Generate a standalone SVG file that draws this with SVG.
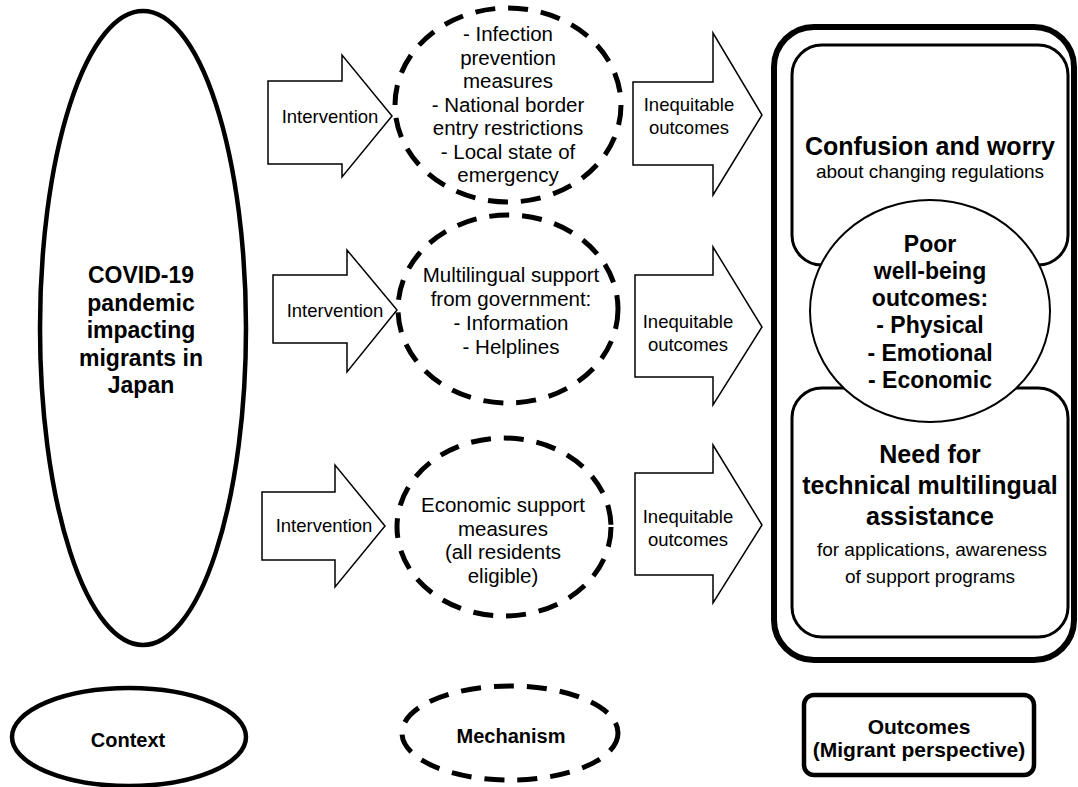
<svg xmlns="http://www.w3.org/2000/svg" width="1078" height="787" viewBox="0 0 1078 787">
<style>
text{font-family:"Liberation Sans",Arial,sans-serif;fill:#000;text-anchor:middle}
.b{font-weight:bold}
.arrow{fill:#fff;stroke:#000;stroke-width:1.5;stroke-linejoin:miter}
.mech{fill:#fff;stroke:#000;stroke-width:5;stroke-dasharray:20 13}
.ctx{fill:#fff;stroke:#000;stroke-width:4.5}
.at{font-size:18.5px}
.mt{font-size:20.5px}
</style>
<rect width="1078" height="787" fill="#fff"/>
<g id="context">
<ellipse class="ctx" cx="143" cy="328" rx="103" ry="317"/>
<text class="b" font-size="23"><tspan x="141" y="283">COVID-19</tspan><tspan x="141" y="310.5">pandemic</tspan><tspan x="141" y="338">impacting</tspan><tspan x="141" y="365.5">migrants in</tspan><tspan x="141" y="393">Japan</tspan></text>
</g>
<g id="connectors">
<path class="arrow" d="M268,81 H342 V55 L392,116 L342,177 V164 H268 Z"/>
<path class="arrow" d="M633,82 H713 V33 L762,115 L713,195 V165 H633 Z"/>
<path class="arrow" d="M273,275 H347 V250 L397,310 L347,372 V343 H273 Z"/>
<path class="arrow" d="M635,275 H713 V247 L762,327 L713,405 V377 H635 Z"/>
<path class="arrow" d="M262,492 H335 V465 L385,526 L335,587 V560 H262 Z"/>
<path class="arrow" d="M635,473 H713 V445 L762,525 L713,603 V575 H635 Z"/>
<text class="at" x="330" y="123">Intervention</text>
<text class="at"><tspan x="689" y="111">Inequitable</tspan><tspan x="689" y="134">outcomes</tspan></text>
<text class="at" x="335" y="317">Intervention</text>
<text class="at"><tspan x="688" y="328">Inequitable</tspan><tspan x="688" y="351">outcomes</tspan></text>
<text class="at" x="324" y="532">Intervention</text>
<text class="at"><tspan x="688" y="523">Inequitable</tspan><tspan x="688" y="546">outcomes</tspan></text>
</g>
<g id="mechanism1">
<ellipse class="mech" cx="508" cy="105" rx="113" ry="97"/>
<text class="mt"><tspan x="508" y="41">- Infection</tspan><tspan x="508" y="64.5">prevention</tspan><tspan x="508" y="88">measures</tspan><tspan x="508" y="111.5">- National border</tspan><tspan x="508" y="135">entry restrictions</tspan><tspan x="508" y="158.5">- Local state of</tspan><tspan x="508" y="182">emergency</tspan></text>
</g>
<g id="mechanism2">
<ellipse class="mech" cx="508" cy="309" rx="110" ry="94"/>
<text class="mt"><tspan x="511" y="282">Multilingual support</tspan><tspan x="511" y="306">from government:</tspan><tspan x="511" y="330">- Information</tspan><tspan x="511" y="354">- Helplines</tspan></text>
</g>
<g id="mechanism3">
<ellipse class="mech" cx="504" cy="527" rx="107" ry="89"/>
<text class="mt"><tspan x="503" y="512">Economic support</tspan><tspan x="503" y="535.5">measures</tspan><tspan x="503" y="559">(all residents</tspan><tspan x="503" y="582.5">eligible)</tspan></text>
</g>
<g id="outcomes">
<rect x="774" y="27" width="300" height="633" rx="40" fill="#fff" stroke="#000" stroke-width="6"/>
<g id="outcome-confusion">
<rect x="792" y="45" width="276" height="220" rx="30" fill="#fff" stroke="#000" stroke-width="3"/>
<text class="b" font-size="25" x="930" y="155">Confusion and worry</text>
<text font-size="19" x="930" y="178">about changing regulations</text>
</g>
<g id="outcome-assistance">
<rect x="792" y="388" width="276" height="249" rx="30" fill="#fff" stroke="#000" stroke-width="3"/>
<text class="b" font-size="25"><tspan x="930" y="463">Need for</tspan><tspan x="930" y="494">technical multilingual</tspan><tspan x="930" y="525">assistance</tspan></text>
<text font-size="19"><tspan x="932" y="556">for applications, awareness</tspan><tspan x="930" y="583">of support programs</tspan></text>
</g>
<g id="outcome-wellbeing">
<ellipse cx="930" cy="311" rx="120" ry="111" fill="#fff" stroke="#000" stroke-width="2"/>
<text class="b" font-size="23"><tspan x="930" y="252">Poor</tspan><tspan x="930" y="279">well-being</tspan><tspan x="930" y="306">outcomes:</tspan><tspan x="930" y="333">- Physical</tspan><tspan x="930" y="361">- Emotional</tspan><tspan x="930" y="388">- Economic</tspan></text>
</g>
</g>
<g id="legend-context">
<ellipse class="ctx" cx="129" cy="737" rx="117" ry="49"/>
<text class="b" font-size="20" x="128" y="747">Context</text>
</g>
<g id="legend-mechanism">
<ellipse class="mech" cx="510" cy="733" rx="108" ry="47"/>
<text class="b" font-size="20" x="511" y="743">Mechanism</text>
</g>
<g id="legend-outcomes">
<rect x="804" y="695" width="230" height="80" rx="10" fill="#fff" stroke="#000" stroke-width="4.5"/>
<text class="b" font-size="21"><tspan x="919" y="734">Outcomes</tspan><tspan x="919" y="757">(Migrant perspective)</tspan></text>
</g>
</svg>
